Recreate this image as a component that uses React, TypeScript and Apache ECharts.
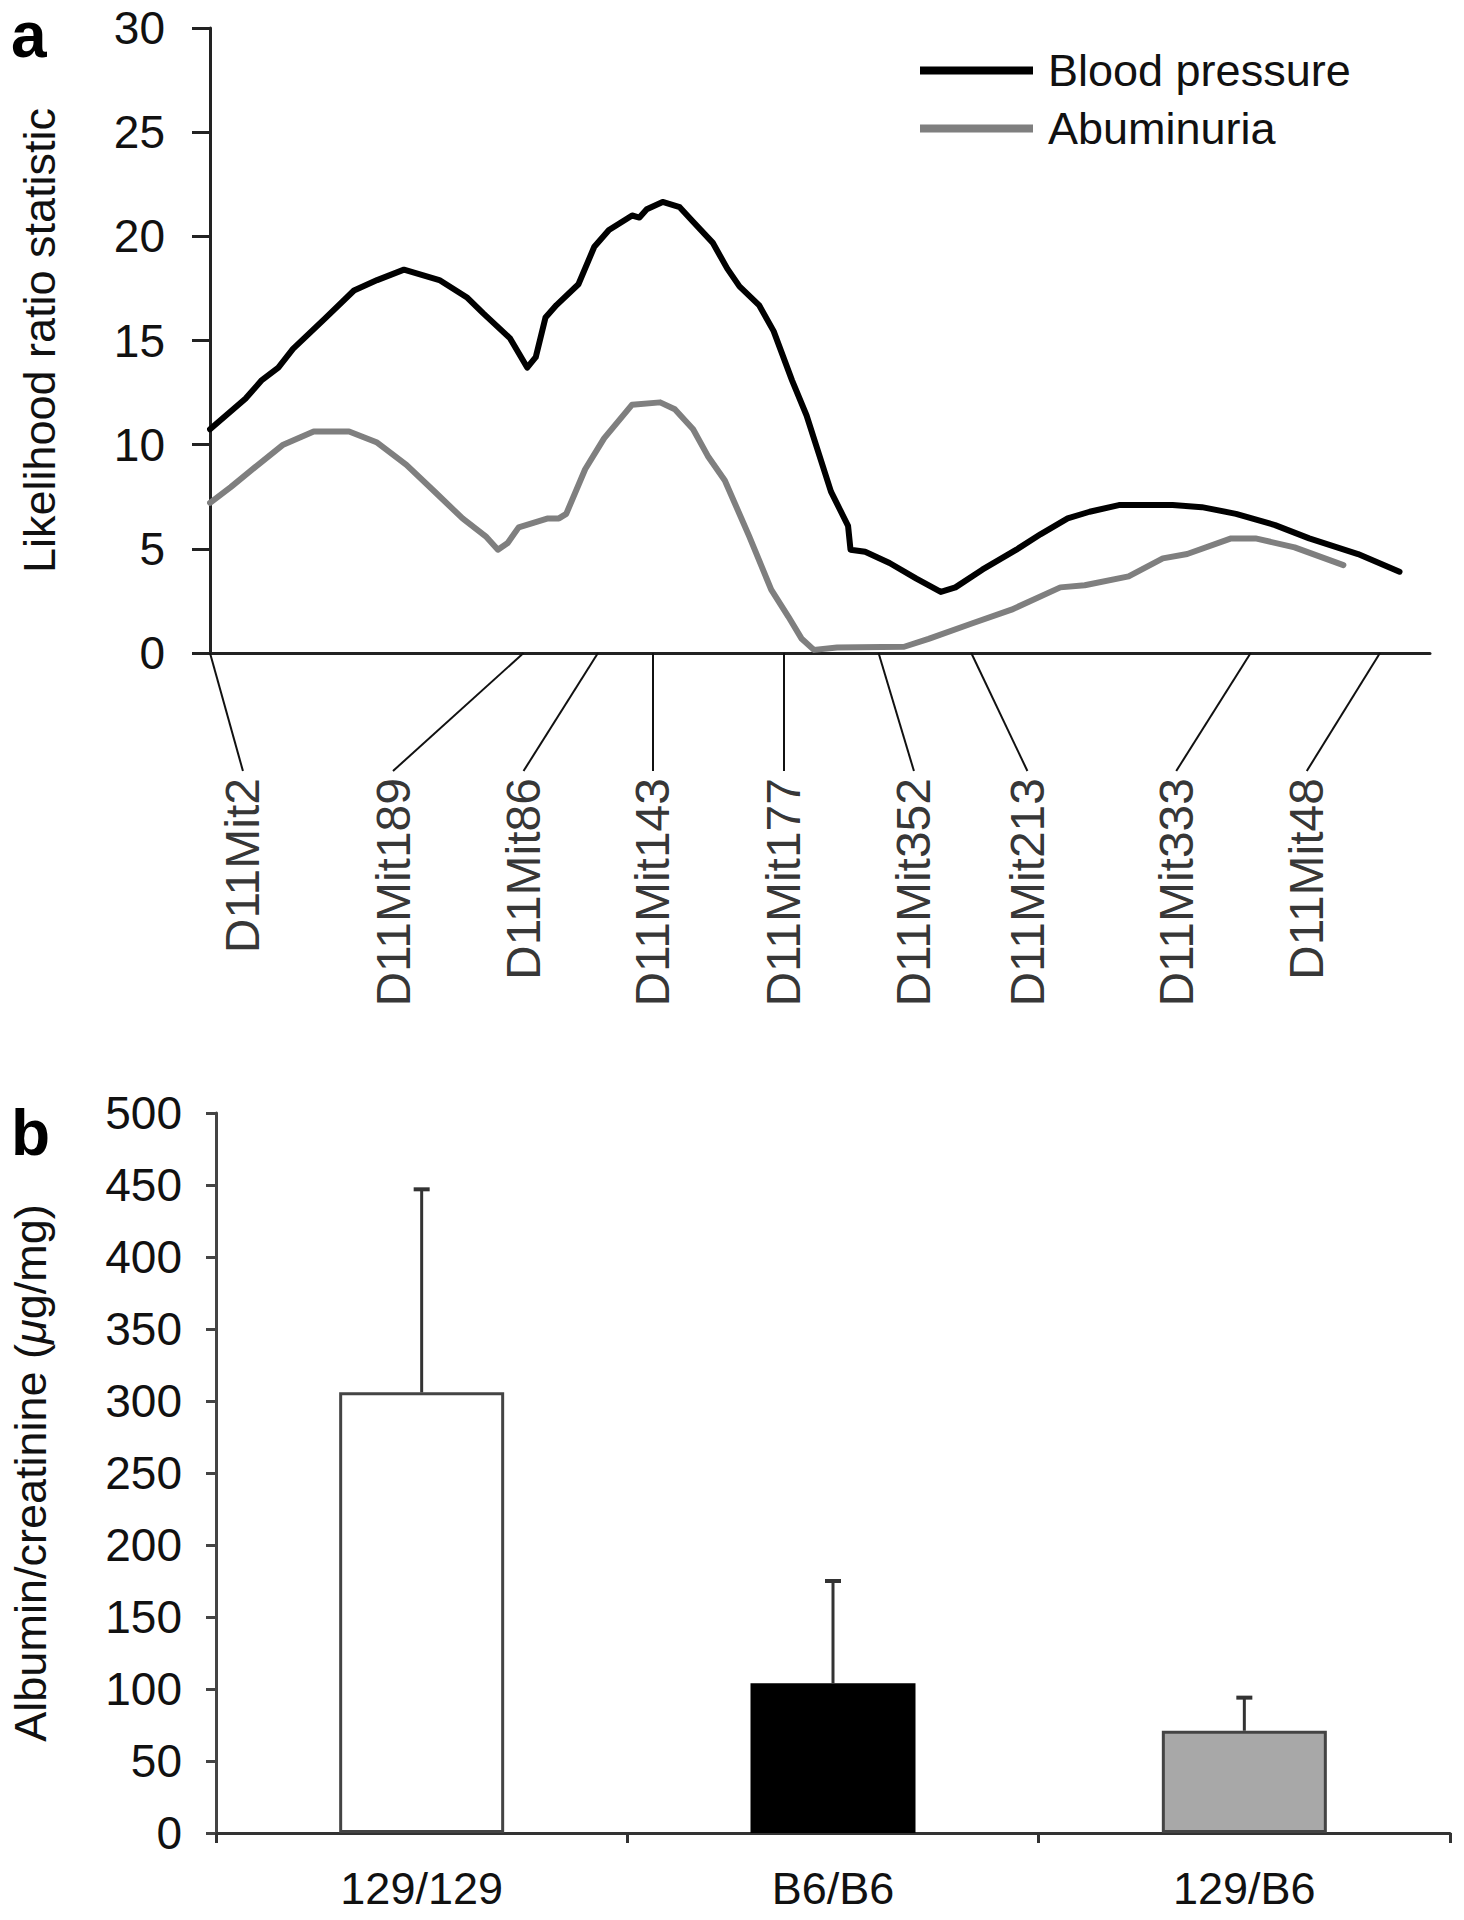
import React, { useEffect, useRef } from "react";
import * as echarts from "echarts";

const FONT = "'Liberation Sans', Arial, Helvetica, sans-serif";

// Panel a: positions along the chromosome (arbitrary 0-100 scale) and LR statistics
const bpPos = [0, 2.9, 4.25, 5.6, 6.8, 9.5, 11.8, 13.7, 15.9, 18.8, 21.1, 22.4, 24.6, 25.3, 26.0, 26.7, 27.5, 28.4, 30.2, 31.5, 32.7, 34.6, 35.2, 35.8, 37.1, 38.5, 39.6, 41.2, 42.4, 43.4, 45.0, 46.2, 47.7, 48.9, 50.9, 52.3, 52.5, 53.7, 55.7, 57.9, 59.9, 61.1, 63.3, 66.1, 68.1, 70.3, 72.1, 74.5, 78.9, 81.3, 84.1, 87.3, 90.1, 94.1, 97.5];
const bpVal = [10.74, 12.2, 13.1, 13.7, 14.6, 16.1, 17.4, 17.9, 18.4, 17.9, 17.05, 16.3, 15.1, 14.4, 13.7, 14.2, 16.1, 16.7, 17.7, 19.5, 20.3, 21.0, 20.9, 21.3, 21.65, 21.4, 20.7, 19.7, 18.45, 17.6, 16.7, 15.45, 13.1, 11.4, 7.75, 6.1, 4.96, 4.86, 4.32, 3.57, 2.93, 3.15, 4.0, 4.96, 5.71, 6.46, 6.78, 7.1, 7.1, 7.0, 6.68, 6.14, 5.5, 4.75, 3.9];

const albPos = [0, 1.7, 3.7, 6.0, 8.5, 11.4, 13.7, 16.1, 18.4, 20.7, 22.6, 23.6, 24.4, 25.3, 27.7, 28.6, 29.2, 30.75, 32.3, 34.6, 36.9, 38.1, 39.6, 40.8, 42.2, 44.2, 46.0, 47.4, 48.5, 49.5, 51.4, 56.9, 58.9, 62.5, 65.7, 69.7, 71.7, 75.3, 78.1, 80.1, 83.7, 85.7, 88.9, 92.9];
const albVal = [7.21, 7.96, 8.92, 10.0, 10.63, 10.63, 10.1, 9.03, 7.75, 6.46, 5.6, 4.96, 5.28, 6.03, 6.46, 6.46, 6.68, 8.82, 10.3, 11.92, 12.03, 11.7, 10.74, 9.46, 8.28, 5.6, 3.04, 1.75, 0.68, 0.15, 0.26, 0.3, 0.68, 1.43, 2.08, 3.15, 3.25, 3.68, 4.54, 4.75, 5.5, 5.5, 5.07, 4.22];

const markerNames = ["D11Mit2", "D11Mit189", "D11Mit86", "D11Mit143", "D11Mit177", "D11Mit352", "D11Mit213", "D11Mit333", "D11Mit48"];
const markerPos = [0, 25.7, 31.8, 36.3, 47.0, 54.8, 62.4, 85.3, 95.9];
const markerLabelPos = [2.7, 15.0, 25.7, 36.3, 47.0, 57.7, 67.0, 79.2, 89.9];

const yTicksA = { min: 0, max: 30, interval: 5 };

// Panel b
const genotypes = ["129/129", "B6/B6", "129/B6"];
const ratioMean = [306, 104, 71];
const ratioErr = [141, 71, 23];
const barColors = ["#ffffff", "#000000", "#a8a8a8"];
const yTicksB = { min: 0, max: 500, interval: 50 };

export default function App() {
  const ref = useRef<HTMLDivElement>(null);

  useEffect(() => {
    if (!ref.current) return;
    const chart = echarts.init(ref.current, undefined, { renderer: "svg" });
    const axisColor = "#222";
    const textColor = "#111";

    const option: any = {
      animation: false,
      backgroundColor: "#ffffff",
      textStyle: { fontFamily: FONT },
      legend: {
        data: ["Blood pressure", "Abuminuria"],
        orient: "vertical",
        left: 920,
        top: 48,
        padding: 0,
        icon: "rect",
        itemWidth: 113,
        itemHeight: 8,
        itemGap: 13,
        textStyle: { fontSize: 45, fontFamily: FONT, color: textColor, lineHeight: 45, padding: [0, 0, 0, 10] },
      },
      graphic: [
        { type: "text", x: 11, y: 35, style: { text: "a", font: `bold 64px ${FONT}`, fill: "#000", verticalAlign: "middle", lineHeight: 56 } },
        { type: "text", x: 11, y: 1133, style: { text: "b", font: `bold 64px ${FONT}`, fill: "#000", verticalAlign: "middle", lineHeight: 56 } },
      ],
      grid: [
        { left: 210, top: 28, width: 1220, height: 625 },
        { left: 210, top: 653, width: 1220, height: 125 },
        { left: 202, top: 1113, width: 1248, height: 720 },
      ],
      xAxis: [
        {
          type: "value", gridIndex: 0, min: 0, max: 100,
          axisLine: { show: true, onZero: false, lineStyle: { color: axisColor, width: 3 } },
          axisTick: { show: false }, axisLabel: { show: false }, splitLine: { show: false },
        },
        { type: "value", gridIndex: 1, min: 0, max: 100, show: false },
        {
          type: "category", gridIndex: 2, data: genotypes,
          axisLine: { show: true, lineStyle: { color: "#333", width: 3 } },
          axisTick: { show: true, length: 10, lineStyle: { color: "#333", width: 3 } },
          axisLabel: { fontSize: 45, margin: 33, lineHeight: 45, color: textColor, fontFamily: FONT },
          splitLine: { show: false },
        },
      ],
      yAxis: [
        {
          type: "value", gridIndex: 0, ...yTicksA,
          axisLine: { show: true, lineStyle: { color: axisColor, width: 3 } },
          axisTick: { show: true, length: 18, lineStyle: { color: axisColor, width: 3 } },
          axisLabel: { fontSize: 46, margin: 45, color: textColor, fontFamily: FONT },
          splitLine: { show: false },
          name: "Likelihood ratio statistic", nameLocation: "middle", nameGap: 148, nameRotate: 90,
          nameTextStyle: { fontSize: 45, color: textColor, fontFamily: FONT },
        },
        { type: "value", gridIndex: 1, min: 0, max: 1, show: false },
        {
          type: "value", gridIndex: 2, ...yTicksB,
          axisLine: { show: true, lineStyle: { color: "#444", width: 3 } },
          axisTick: { show: true, length: 10, lineStyle: { color: "#444", width: 3 } },
          axisLabel: { fontSize: 46, margin: 34, color: textColor, fontFamily: FONT },
          splitLine: { show: false },
          name: "Albumin/creatinine ({mu|μ}g/mg)", nameLocation: "middle", nameGap: 163, nameRotate: 90,
          nameTextStyle: {
            fontSize: 45, color: textColor, fontFamily: FONT,
            rich: { mu: { fontStyle: "italic", fontSize: 45, color: textColor, fontFamily: FONT } },
          },
        },
      ],
      series: [
        {
          name: "Blood pressure", type: "line", xAxisIndex: 0, yAxisIndex: 0,
          data: bpPos.map((p, i) => [p, bpVal[i]]),
          symbol: "none", showSymbol: false, smooth: false, z: 3,
          lineStyle: { color: "#000", width: 6, join: "round", cap: "round" },
          itemStyle: { color: "#000" },
        },
        {
          name: "Abuminuria", type: "line", xAxisIndex: 0, yAxisIndex: 0,
          data: albPos.map((p, i) => [p, albVal[i]]),
          symbol: "none", showSymbol: false, smooth: false, z: 2,
          lineStyle: { color: "#7f7f7f", width: 6, join: "round", cap: "round" },
          itemStyle: { color: "#7f7f7f" },
        },
        {
          type: "lines", coordinateSystem: "cartesian2d", xAxisIndex: 1, yAxisIndex: 1,
          data: markerPos.map((p, i) => ({ coords: [[p, 1], [markerLabelPos[i], 0.056]] })),
          lineStyle: { color: "#111", width: 2, opacity: 1 },
          silent: true,
        },
        {
          type: "scatter", xAxisIndex: 1, yAxisIndex: 1,
          data: markerLabelPos.map((p, i) => ({ value: [p, 0], name: markerNames[i] })),
          symbolSize: 0,
          itemStyle: { color: "rgba(0,0,0,0)" },
          label: {
            show: true, position: "inside", formatter: "{b}", rotate: 90,
            align: "right", verticalAlign: "middle",
            fontSize: 48, color: "#000", fontFamily: FONT,
          },
        },
        {
          type: "bar", xAxisIndex: 2, yAxisIndex: 2, barWidth: 165,
          data: ratioMean.map((v, i) => ({
            value: v,
            itemStyle: { color: barColors[i], borderColor: i === 1 ? "#000" : "#444", borderWidth: 3 },
          })),
        },
        {
          type: "custom", xAxisIndex: 2, yAxisIndex: 2, z: 5,
          data: ratioMean.map((v, i) => [i, v, ratioErr[i]]),
          renderItem: (params: any, api: any) => {
            const base = api.coord([api.value(0), api.value(1)]);
            const top = api.coord([api.value(0), api.value(1) + api.value(2)]);
            return {
              type: "group",
              children: [
                { type: "line", shape: { x1: base[0], y1: base[1], x2: top[0], y2: top[1] }, style: { stroke: "#333", lineWidth: 3 } },
                { type: "line", shape: { x1: top[0] - 8, y1: top[1], x2: top[0] + 8, y2: top[1] }, style: { stroke: "#333", lineWidth: 4 } },
              ],
            };
          },
        },
      ],
    };
    chart.setOption(option);
    return () => chart.dispose();
  }, []);

  return <div ref={ref} style={{ position: "absolute", left: 0, top: 0, width: 1464, height: 1920 }} />;
}
